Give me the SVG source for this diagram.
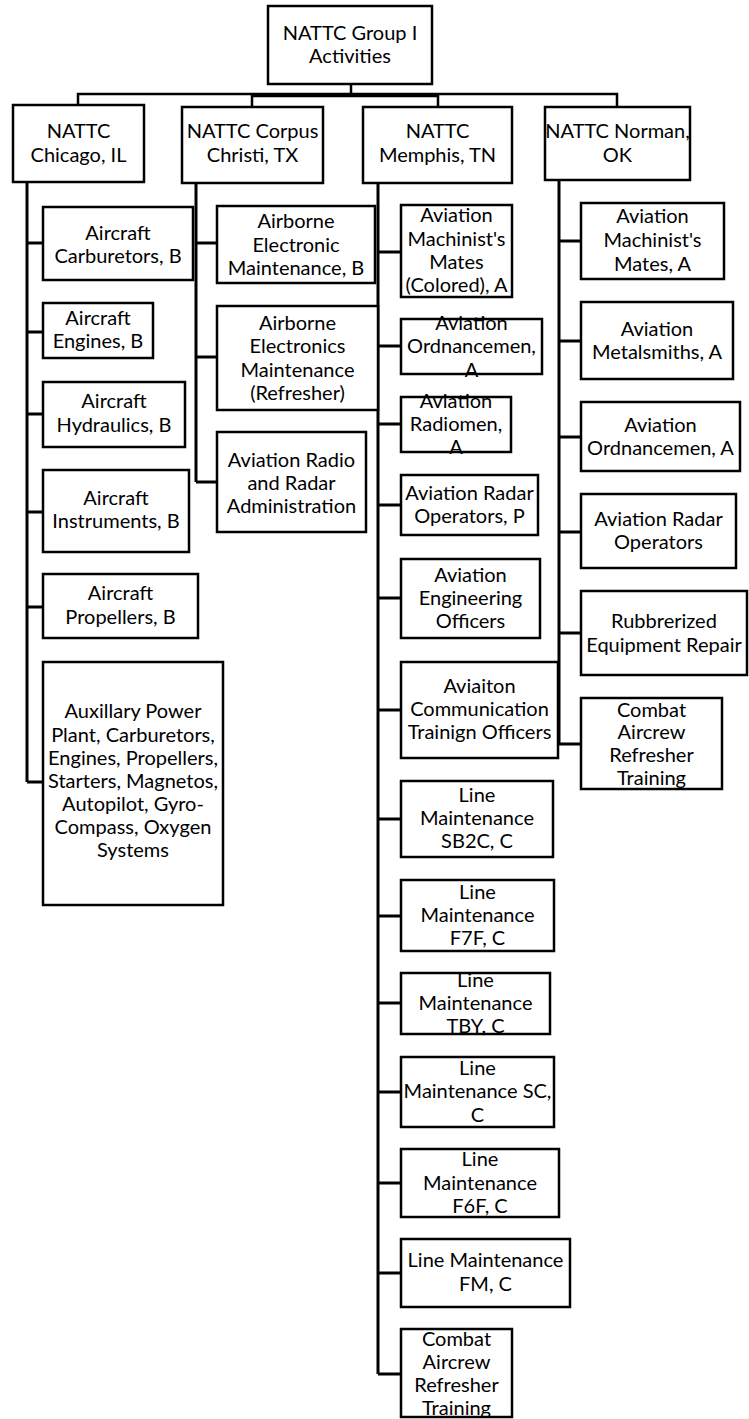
<svg xmlns="http://www.w3.org/2000/svg" width="749" height="1419" viewBox="0 0 749 1419">
<style>
.box{fill:#fff;stroke:#000;stroke-width:2.5}
.t{font-family:Lato,"Liberation Sans",sans-serif;font-size:20px;fill:#000;text-anchor:middle}
.c{fill:none;stroke:#000;stroke-width:3}
.b{fill:none;stroke:#000;stroke-width:2.5}
</style>
<rect width="749" height="1419" fill="#fff"/>
<g id="connectors">
<path class="b" d="M351,84 V96 M78,105 V94 H617 V107 M252,107 V96 H438 V107"/>
<path class="c" d="M27,182 V782 M27,243 H43 M27,332 H43 M27,414 H43 M27,512 H43 M27,607 H43 M27,782 H43"/>
<path class="c" d="M196,183 V482 M196,243 H217 M196,357 H217 M196,482 H217"/>
<path class="c" d="M378,183 V1374 M378,252 H401 M378,346 H401 M378,424 H401 M378,505 H401 M378,598 H401 M378,710 H401 M378,819 H401 M378,916 H401 M378,1003 H401 M378,1092 H401 M378,1183 H401 M378,1273 H401 M378,1374 H401"/>
<path class="c" d="M559,180 V744 M559,241 H581 M559,341 H581 M559,437 H581 M559,532 H581 M559,633 H581 M559,744 H581"/>
</g>
<g id="root"><rect class="box" x="268" y="6" width="164" height="78"/><text class="t" x="350" y="40">NATTC Group I</text><text class="t" x="350" y="63">Activities</text></g>
<g id="chicago"><rect class="box" x="13" y="105" width="131" height="77"/><text class="t" x="78.5" y="138">NATTC</text><text class="t" x="78.5" y="162">Chicago, IL</text></g>
<g id="corpus"><rect class="box" x="182" y="107" width="141" height="76"/><text class="t" x="252.5" y="138">NATTC Corpus</text><text class="t" x="252.5" y="162">Christi, TX</text></g>
<g id="memphis"><rect class="box" x="363" y="107" width="149" height="76"/><text class="t" x="437.5" y="138">NATTC</text><text class="t" x="437.5" y="162">Memphis, TN</text></g>
<g id="norman"><rect class="box" x="545" y="107" width="145" height="73"/><text class="t" x="617.5" y="138">NATTC Norman,</text><text class="t" x="617.5" y="162">OK</text></g>

<g id="chi-carb"><rect class="box" x="43" y="207" width="150" height="73"/><text class="t" x="118" y="240">Aircraft</text><text class="t" x="118" y="263">Carburetors, B</text></g>
<g id="chi-eng"><rect class="box" x="43" y="303" width="110" height="55"/><text class="t" x="98" y="325">Aircraft</text><text class="t" x="98" y="348">Engines, B</text></g>
<g id="chi-hyd"><rect class="box" x="43" y="382" width="142" height="65"/><text class="t" x="114" y="408">Aircraft</text><text class="t" x="114" y="432">Hydraulics, B</text></g>
<g id="chi-inst"><rect class="box" x="43" y="470" width="146" height="82"/><text class="t" x="116" y="505">Aircraft</text><text class="t" x="116" y="528">Instruments, B</text></g>
<g id="chi-prop"><rect class="box" x="43" y="574" width="155" height="64"/><text class="t" x="120.5" y="600">Aircraft</text><text class="t" x="120.5" y="624">Propellers, B</text></g>
<g id="chi-aux"><rect class="box" x="43" y="662" width="180" height="243"/>
<text class="t" x="133" y="718">Auxillary Power</text><text class="t" x="133" y="742">Plant, Carburetors,</text><text class="t" x="133" y="765">Engines, Propellers,</text><text class="t" x="133" y="788">Starters, Magnetos,</text><text class="t" x="133" y="811">Autopilot, Gyro-</text><text class="t" x="133" y="834">Compass, Oxygen</text><text class="t" x="133" y="857">Systems</text></g>

<g id="cor-aem"><rect class="box" x="217" y="206" width="158" height="77"/><text class="t" x="296" y="228">Airborne</text><text class="t" x="296" y="252">Electronic</text><text class="t" x="296" y="275">Maintenance, B</text></g>
<g id="cor-ref"><rect class="box" x="217" y="306" width="161" height="104"/><text class="t" x="297.5" y="330">Airborne</text><text class="t" x="297.5" y="353">Electronics</text><text class="t" x="297.5" y="377">Maintenance</text><text class="t" x="297.5" y="400">(Refresher)</text></g>
<g id="cor-radio"><rect class="box" x="217" y="432" width="149" height="100"/><text class="t" x="291.5" y="467">Aviation Radio</text><text class="t" x="291.5" y="490">and Radar</text><text class="t" x="291.5" y="513">Administration</text></g>

<g id="mem-mm"><rect class="box" x="401" y="205" width="111" height="92"/><text class="t" x="456.5" y="222">Aviation</text><text class="t" x="456.5" y="246">Machinist's</text><text class="t" x="456.5" y="269">Mates</text><text class="t" x="456.5" y="292">(Colored), A</text></g>
<g id="mem-ord"><rect class="box" x="401" y="319" width="141" height="55"/><text class="t" x="471.5" y="330">Aviation</text><text class="t" x="471.5" y="353">Ordnancemen,</text><text class="t" x="471.5" y="377">A</text></g>
<g id="mem-rad"><rect class="box" x="401" y="397" width="110" height="55"/><text class="t" x="456" y="408">Aviation</text><text class="t" x="456" y="431">Radiomen,</text><text class="t" x="456" y="454">A</text></g>
<g id="mem-radar"><rect class="box" x="401" y="475" width="137" height="60"/><text class="t" x="469.5" y="500">Aviation Radar</text><text class="t" x="469.5" y="523">Operators, P</text></g>
<g id="mem-eng"><rect class="box" x="401" y="559" width="139" height="79"/><text class="t" x="470.5" y="582">Aviation</text><text class="t" x="470.5" y="605">Engineering</text><text class="t" x="470.5" y="628">Officers</text></g>
<g id="mem-comm"><rect class="box" x="401" y="662" width="157" height="96"/><text class="t" x="479.5" y="693">Aviaiton</text><text class="t" x="479.5" y="716">Communication</text><text class="t" x="479.5" y="739">Trainign Officers</text></g>
<g id="mem-sb2c"><rect class="box" x="401" y="781" width="152" height="76"/><text class="t" x="477" y="802">Line</text><text class="t" x="477" y="825">Maintenance</text><text class="t" x="477" y="848">SB2C, C</text></g>
<g id="mem-f7f"><rect class="box" x="401" y="880" width="153" height="71"/><text class="t" x="477.5" y="899">Line</text><text class="t" x="477.5" y="922">Maintenance</text><text class="t" x="477.5" y="945">F7F, C</text></g>
<g id="mem-tby"><rect class="box" x="401" y="973" width="149" height="61"/><text class="t" x="475.5" y="987">Line</text><text class="t" x="475.5" y="1010">Maintenance</text><text class="t" x="475.5" y="1033">TBY, C</text></g>
<g id="mem-sc"><rect class="box" x="401" y="1057" width="153" height="70"/><text class="t" x="477.5" y="1075">Line</text><text class="t" x="477.5" y="1098">Maintenance SC,</text><text class="t" x="477.5" y="1122">C</text></g>
<g id="mem-f6f"><rect class="box" x="401" y="1149" width="158" height="68"/><text class="t" x="480" y="1166">Line</text><text class="t" x="480" y="1190">Maintenance</text><text class="t" x="480" y="1213">F6F, C</text></g>
<g id="mem-fm"><rect class="box" x="401" y="1239" width="169" height="68"/><text class="t" x="485.5" y="1267">Line Maintenance</text><text class="t" x="485.5" y="1291">FM, C</text></g>
<g id="mem-combat"><rect class="box" x="401" y="1329" width="111" height="88"/><text class="t" x="456.5" y="1346">Combat</text><text class="t" x="456.5" y="1369">Aircrew</text><text class="t" x="456.5" y="1392">Refresher</text><text class="t" x="456.5" y="1415">Training</text></g>

<g id="nor-mm"><rect class="box" x="581" y="203" width="143" height="76"/><text class="t" x="652.5" y="223">Aviation</text><text class="t" x="652.5" y="247">Machinist's</text><text class="t" x="652.5" y="271">Mates, A</text></g>
<g id="nor-metal"><rect class="box" x="581" y="302" width="152" height="77"/><text class="t" x="657" y="336">Aviation</text><text class="t" x="657" y="359">Metalsmiths, A</text></g>
<g id="nor-ord"><rect class="box" x="581" y="402" width="159" height="69"/><text class="t" x="660.5" y="432">Aviation</text><text class="t" x="660.5" y="455">Ordnancemen, A</text></g>
<g id="nor-radar"><rect class="box" x="581" y="494" width="155" height="74"/><text class="t" x="658.5" y="526">Aviation Radar</text><text class="t" x="658.5" y="549">Operators</text></g>
<g id="nor-rub"><rect class="box" x="581" y="591" width="166" height="84"/><text class="t" x="664" y="628">Rubbrerized</text><text class="t" x="664" y="652">Equipment Repair</text></g>
<g id="nor-combat"><rect class="box" x="581" y="698" width="141" height="91"/><text class="t" x="651.5" y="717">Combat</text><text class="t" x="651.5" y="739">Aircrew</text><text class="t" x="651.5" y="762">Refresher</text><text class="t" x="651.5" y="785">Training</text></g>
</svg>
